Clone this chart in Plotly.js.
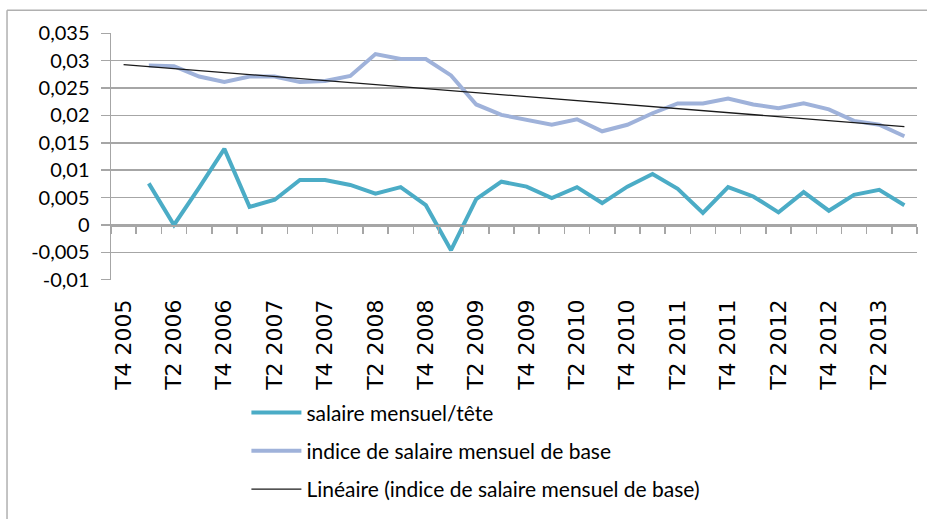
<!DOCTYPE html>
<html><head><meta charset="utf-8">
<script src="https://cdn.plot.ly/plotly-3.0.1.min.js"></script>
<style>html,body{margin:0;padding:0;background:#fff}#chart{width:927px;height:519px}</style>
</head><body><div id="chart"></div>
<script>
const categories = [
  "T4 2005",
  "T1 2006","T2 2006","T3 2006","T4 2006",
  "T1 2007","T2 2007","T3 2007","T4 2007",
  "T1 2008","T2 2008","T3 2008","T4 2008",
  "T1 2009","T2 2009","T3 2009","T4 2009",
  "T1 2010","T2 2010","T3 2010","T4 2010",
  "T1 2011","T2 2011","T3 2011","T4 2011",
  "T1 2012","T2 2012","T3 2012","T4 2012",
  "T1 2013","T2 2013","T3 2013"
];
const xTickLabels = ["T4 2005","T2 2006","T4 2006","T2 2007","T4 2007","T2 2008","T4 2008","T2 2009",
  "T4 2009","T2 2010","T4 2010","T2 2011","T4 2011","T2 2012","T4 2012","T2 2013"];
const salaireTete = [null,
  0.0076, 0.0000, 0.0068, 0.0139,
  0.0033, 0.0046, 0.0082, 0.0082,
  0.0073, 0.0057, 0.0069, 0.0036,
  -0.0046, 0.0047, 0.0079, 0.0070,
  0.0049, 0.0069, 0.0040, 0.0070,
  0.0093, 0.0066, 0.0022, 0.0069,
  0.0052, 0.0023, 0.0060, 0.0026,
  0.0055, 0.0064, 0.0036];
const indiceBase = [null,
  0.0291, 0.0290, 0.0271, 0.0261,
  0.0271, 0.0271, 0.0261, 0.0263,
  0.0272, 0.0312, 0.0303, 0.0303,
  0.0273, 0.0220, 0.0201, 0.0192,
  0.0183, 0.0193, 0.0171, 0.0183,
  0.0204, 0.0222, 0.0222, 0.0231,
  0.0220, 0.0213, 0.0222, 0.0211,
  0.0190, 0.0183, 0.0162];
const yTickVals = [-0.01,-0.005,0,0.005,0.01,0.015,0.02,0.025,0.03,0.035];
const yTickText = ["-0,01","-0,005","0","0,005","0,01","0,015","0,02","0,025","0,03","0,035"];
const seriesNames = ["salaire mensuel/tête","indice de salaire mensuel de base","Linéaire (indice de salaire mensuel de base)"];

// Linear least-squares trend of the base index (as Excel's "Linéaire")
let n=0,sx=0,sy=0,sxx=0,sxy=0;
indiceBase.forEach((v,i)=>{ if(v!==null){n++;sx+=i;sy+=v;sxx+=i*i;sxy+=i*v;} });
const slope=(n*sxy-sx*sy)/(n*sxx-sx*sx), icpt=(sy-slope*sx)/n;
const trend = categories.map((c,i)=>icpt+slope*i);

const grid = '#a6a6a6';
const font = 'Lato, "Open Sans", sans-serif';
const traces = [
  {x:categories,y:salaireTete,name:seriesNames[0],type:'scatter',mode:'lines',
   line:{color:'#4bacc6',width:4},legendgroup:'a',connectgaps:false},
  {x:categories,y:indiceBase,name:seriesNames[1],type:'scatter',mode:'lines',
   line:{color:'#9fb2da',width:4},legendgroup:'b'},
  {x:categories,y:trend,name:seriesNames[2],type:'scatter',mode:'lines',
   line:{color:'#1a1a1a',width:1.3},legendgroup:'c'},
  {x:categories,y:categories.map(()=>null),xaxis:'x2',yaxis:'y',type:'scatter',mode:'lines',
   showlegend:false,hoverinfo:'skip'}
];
const layout = {
  width:927,height:519,
  margin:{l:111,r:10,t:33,b:237},
  paper_bgcolor:'#fff',plot_bgcolor:'#fff',
  showlegend:true,
  legend:{x:0.168,y:-0.455,xanchor:'left',yanchor:'top',orientation:'v',
    font:{family:font,size:21,color:'#000'},tracegroupgap:8,itemwidth:50,
    bgcolor:'rgba(0,0,0,0)'},
  xaxis:{type:'category',categoryarray:categories,categoryorder:'array',
    range:[-0.5,31.5],showgrid:false,zeroline:false,showline:false,ticks:'',
    tickmode:'array',tickvals:xTickLabels,ticktext:xTickLabels,tickangle:-90,
    ticklabelstandoff:14,tickfont:{family:'"DejaVu Sans", sans-serif',size:22,color:'#000'}},
  xaxis2:{type:'category',matches:'x',overlaying:'x',anchor:'free',position:0.2222,
    showgrid:false,zeroline:false,showline:true,linecolor:grid,linewidth:1.5,
    ticks:'outside',ticklen:7,tickcolor:grid,tickwidth:1.5,tickson:'boundaries',
    showticklabels:false},
  yaxis:{range:[-0.01005,0.03505],tickmode:'array',tickvals:yTickVals,ticktext:yTickText,
    showgrid:true,gridcolor:grid,gridwidth:1.5,zeroline:false,
    showline:true,linecolor:grid,linewidth:1.5,ticks:'outside',ticklen:9,tickcolor:grid,tickwidth:1.5,
    ticklabelstandoff:7,tickfont:{family:font,size:20,color:'#000'}},
  shapes:[
    {type:'line',xref:'paper',yref:'paper',x0:-0.129,x1:-0.129,y0:1.0924,y1:-1,line:{color:'#b0b0b0',width:1.5}},
    {type:'line',xref:'paper',yref:'paper',x0:-0.129,x1:1.05,y0:1.0924,y1:1.0924,line:{color:'#b0b0b0',width:1.5}}
  ]
};
Plotly.newPlot('chart',traces,layout,{displayModeBar:false,staticPlot:true});
</script></body></html>
